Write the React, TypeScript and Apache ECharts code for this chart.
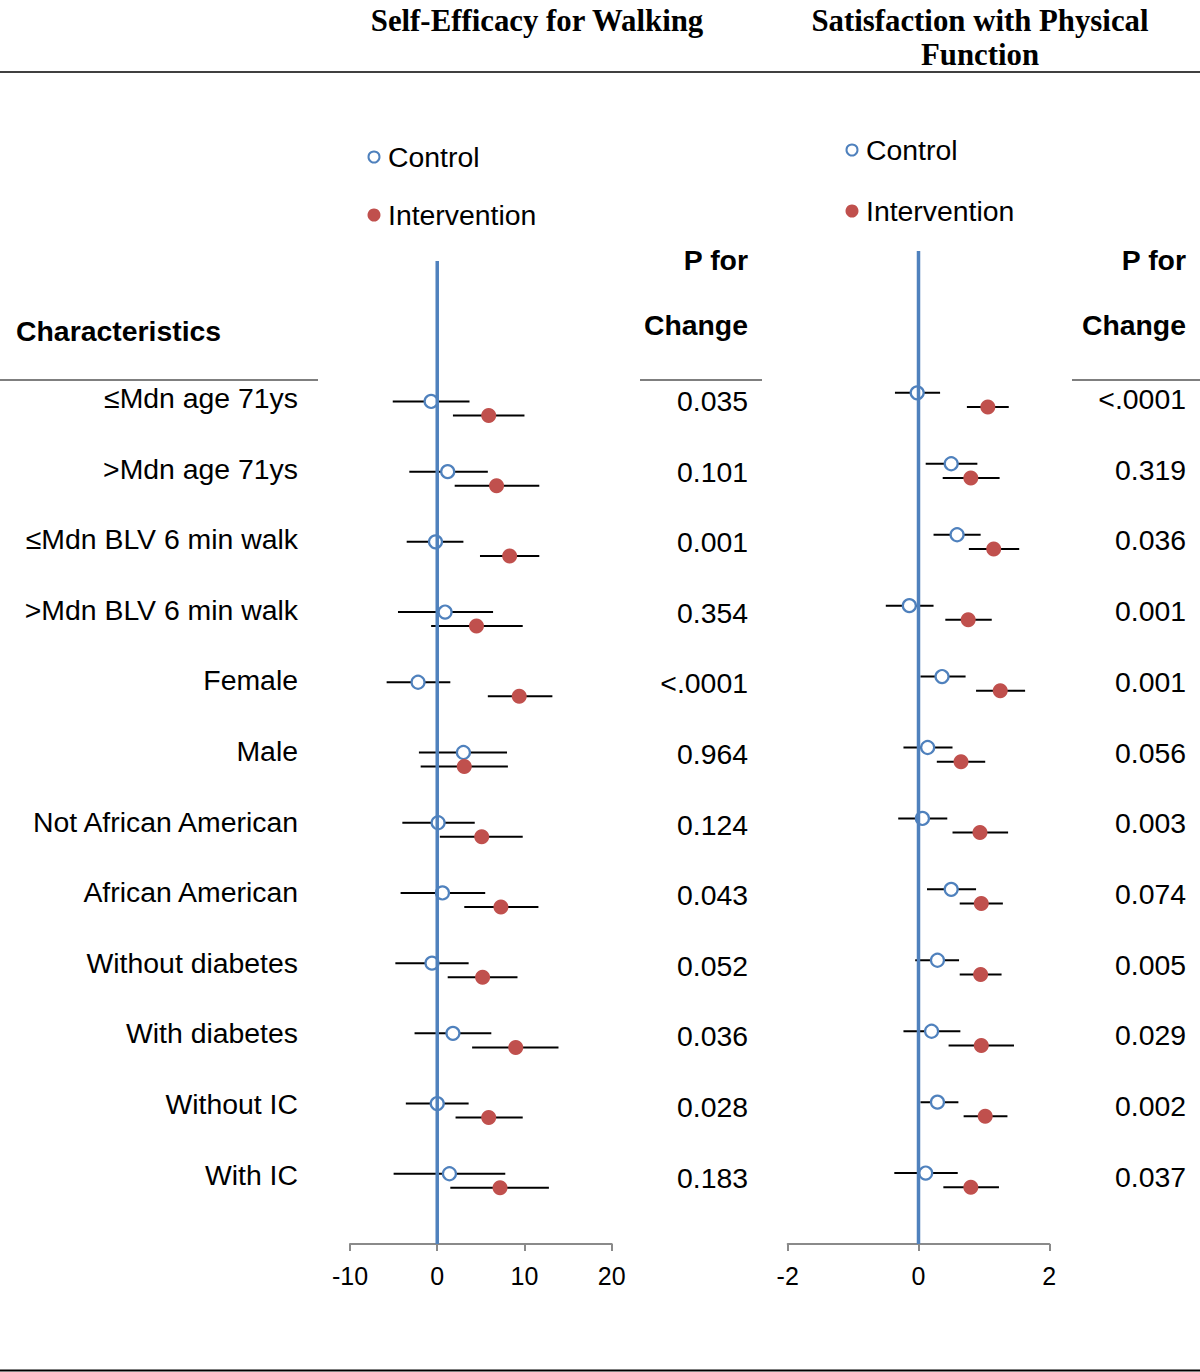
import React, { useEffect, useRef } from "react";
import * as echarts from "echarts";

// ---------- data ----------
const categories = [
  "≤Mdn age 71ys",
  ">Mdn age 71ys",
  "≤Mdn BLV 6 min walk",
  ">Mdn BLV 6 min walk",
  "Female",
  "Male",
  "Not African American",
  "African American",
  "Without diabetes",
  "With diabetes",
  "Without IC",
  "With IC",
];

// Self-Efficacy for Walking
const seControlMean = [-0.7, 1.2, -0.2, 0.9, -2.2, 3.0, 0.1, 0.6, -0.6, 1.8, 0.0, 1.4];
const seControlLow = [-5.1, -3.2, -3.5, -4.5, -5.8, -2.1, -4.0, -4.2, -4.8, -2.6, -3.6, -5.0];
const seControlHigh = [3.7, 5.8, 3.0, 6.4, 1.5, 8.0, 4.3, 5.5, 3.6, 6.2, 3.6, 7.8];
const seIntMean = [5.9, 6.8, 8.3, 4.5, 9.4, 3.1, 5.1, 7.3, 5.2, 9.0, 5.9, 7.2];
const seIntLow = [1.8, 2.0, 4.9, -0.7, 5.8, -1.9, 0.3, 3.1, 1.2, 4.0, 2.1, 1.5];
const seIntHigh = [10.0, 11.7, 11.7, 9.8, 13.2, 8.1, 9.8, 11.6, 9.2, 13.9, 9.8, 12.8];
const seP = ["0.035", "0.101", "0.001", "0.354", "<.0001", "0.964", "0.124", "0.043", "0.052", "0.036", "0.028", "0.183"];

// Satisfaction with Physical Function
const spControlMean = [-0.02, 0.5, 0.59, -0.14, 0.36, 0.14, 0.06, 0.5, 0.29, 0.2, 0.29, 0.11];
const spControlLow = [-0.36, 0.11, 0.23, -0.5, 0.03, -0.23, -0.31, 0.13, -0.05, -0.23, 0.03, -0.37];
const spControlHigh = [0.33, 0.9, 0.95, 0.23, 0.72, 0.52, 0.44, 0.88, 0.62, 0.64, 0.61, 0.6];
const spIntMean = [1.06, 0.8, 1.15, 0.76, 1.25, 0.65, 0.94, 0.96, 0.95, 0.96, 1.02, 0.8];
const spIntLow = [0.74, 0.37, 0.77, 0.41, 0.88, 0.28, 0.52, 0.63, 0.63, 0.46, 0.69, 0.38];
const spIntHigh = [1.38, 1.24, 1.54, 1.12, 1.63, 1.02, 1.37, 1.29, 1.27, 1.46, 1.36, 1.23];
const spP = ["<.0001", "0.319", "0.036", "0.001", "0.001", "0.056", "0.003", "0.074", "0.005", "0.029", "0.002", "0.037"];

const seTicks = { min: -10, max: 20, interval: 10 };
const spTicks = { min: -2, max: 2, interval: 2 };

// ---------- styling ----------
const BLUE = "#4F81BD";
const RED = "#C0504D";
const SANS = '"Liberation Sans", Arial, sans-serif';
const SERIF = '"Liberation Serif", "Times New Roman", serif';
const INT_OFFSET = 0.2;

function errorBarSeries(name: string, gridIdx: number, lows: number[], highs: number[], offset: number) {
  return {
    name,
    type: "custom",
    xAxisIndex: gridIdx,
    yAxisIndex: gridIdx,
    z: 2,
    data: lows.map((l, i) => [l, highs[i], i + offset]),
    encode: { x: [0, 1], y: 2 },
    renderItem: (params: any, api: any) => {
      const a = api.coord([api.value(0), api.value(2)]);
      const b = api.coord([api.value(1), api.value(2)]);
      return {
        type: "line",
        shape: { x1: a[0], y1: a[1], x2: b[0], y2: b[1] },
        style: { stroke: "#000", lineWidth: 2 },
      };
    },
    silent: true,
  };
}

function pointSeries(name: string, gridIdx: number, means: number[], offset: number, control: boolean) {
  return {
    name,
    type: "scatter",
    xAxisIndex: gridIdx,
    yAxisIndex: gridIdx,
    z: 3,
    symbol: "circle",
    symbolSize: control ? 13 : 15,
    itemStyle: control
      ? { color: "#ffffff", borderColor: BLUE, borderWidth: 2.2, opacity: 1 }
      : { color: RED, borderWidth: 0, opacity: 1 },
    data: means.map((m, i) => [m, i + offset]),
    silent: true,
  };
}

function zeroLine(gridIdx: number) {
  return {
    type: "line",
    xAxisIndex: gridIdx,
    yAxisIndex: gridIdx,
    z: 5,
    symbol: "none",
    lineStyle: { color: BLUE, width: 3.5, opacity: 1 },
    data: [
      [0, -2],
      [0, 12],
    ],
    silent: true,
  };
}

function xAxis(gridIdx: number, t: { min: number; max: number; interval: number }) {
  return {
    type: "value",
    gridIndex: gridIdx,
    min: t.min,
    max: t.max,
    interval: t.interval,
    splitLine: { show: false },
    axisLine: { show: true, onZero: false, lineStyle: { color: "#8a8a8a", width: 2 } },
    axisTick: { show: true, length: 7, lineStyle: { color: "#8a8a8a", width: 2 } },
    axisLabel: { color: "#000", fontSize: 25, fontFamily: SANS, margin: 19 },
  };
}

function yAxis(gridIdx: number) {
  return { type: "value", gridIndex: gridIdx, min: -2, max: 12, inverse: true, show: false };
}

function txt(text: string, x: number, y: number, opts: any = {}) {
  return {
    type: "text",
    x,
    y,
    silent: true,
    style: {
      text,
      fill: "#000",
      fontSize: opts.fontSize ?? 28.4,
      fontFamily: opts.fontFamily ?? SANS,
      fontWeight: opts.fontWeight ?? "normal",
      align: opts.align ?? "left",
      verticalAlign: "middle",
    },
  };
}

function hline(x1: number, x2: number, y: number, w = 1.5) {
  return { type: "line", silent: true, shape: { x1, y1: y, x2, y2: y }, style: { stroke: "#000", lineWidth: w } };
}

export default function App() {
  const ref = useRef<HTMLDivElement>(null);

  useEffect(() => {
    if (!ref.current) return;
    const chart = echarts.init(ref.current, undefined, { renderer: "svg" });

    const graphics: any[] = [];
    // titles
    const titleOpts = { fontFamily: SERIF, fontWeight: "bold", fontSize: 30.8, align: "center" };
    graphics.push(txt("Self-Efficacy for Walking", 537, 21, titleOpts));
    graphics.push(txt("Satisfaction with Physical", 980, 21, titleOpts));
    graphics.push(txt("Function", 980, 55, titleOpts));
    // table rules
    graphics.push(hline(0, 1200, 72, 1.5));
    graphics.push(hline(0, 318, 380, 1.2));
    graphics.push(hline(640, 762, 380, 1.2));
    graphics.push(hline(1072, 1200, 380, 1.2));
    graphics.push(hline(0, 1200, 1370.5, 2));
    // legends
    const legends = [
      { cx: 374, cy1: 157, cy2: 215 },
      { cx: 852, cy1: 150, cy2: 211 },
    ];
    legends.forEach((l) => {
      graphics.push({ type: "circle", silent: true, shape: { cx: l.cx, cy: l.cy1, r: 5.5 }, style: { fill: "#fff", stroke: BLUE, lineWidth: 2 } });
      graphics.push(txt("Control", l.cx + 14, l.cy1));
      graphics.push({ type: "circle", silent: true, shape: { cx: l.cx, cy: l.cy2, r: 6.5 }, style: { fill: RED } });
      graphics.push(txt("Intervention", l.cx + 14, l.cy2));
    });
    // headers
    graphics.push(txt("Characteristics", 16, 331, { fontWeight: "bold" }));
    [748, 1186].forEach((x) => {
      graphics.push(txt("P for", x, 260, { fontWeight: "bold", align: "right" }));
      graphics.push(txt("Change", x, 325, { fontWeight: "bold", align: "right" }));
    });
    // row labels and p-values
    categories.forEach((c, i) => {
      graphics.push(txt(c, 298, 398 + 70.6 * i, { align: "right" }));
      graphics.push(txt(seP[i], 748, 401 + 70.6 * i, { align: "right" }));
      graphics.push(txt(spP[i], 1186, 399 + 70.7 * i, { align: "right" }));
    });

    chart.setOption({
      animation: false,
      backgroundColor: "#ffffff",
      textStyle: { fontFamily: SANS },
      grid: [
        { left: 350, top: 261, width: 261.7, height: 983 },
        { left: 787.7, top: 251, width: 261.6, height: 993 },
      ],
      xAxis: [xAxis(0, seTicks), xAxis(1, spTicks)],
      yAxis: [yAxis(0), yAxis(1)],
      series: [
        errorBarSeries("Control CI", 0, seControlLow, seControlHigh, 0),
        errorBarSeries("Intervention CI", 0, seIntLow, seIntHigh, INT_OFFSET),
        pointSeries("Control", 0, seControlMean, 0, true),
        pointSeries("Intervention", 0, seIntMean, INT_OFFSET, false),
        zeroLine(0),
        errorBarSeries("Control CI", 1, spControlLow, spControlHigh, 0),
        errorBarSeries("Intervention CI", 1, spIntLow, spIntHigh, INT_OFFSET),
        pointSeries("Control", 1, spControlMean, 0, true),
        pointSeries("Intervention", 1, spIntMean, INT_OFFSET, false),
        zeroLine(1),
      ],
      graphic: graphics,
    });

    return () => chart.dispose();
  }, []);

  return (
    <div
      ref={ref}
      style={{ position: "absolute", left: 0, top: 0, width: 1200, height: 1372, background: "#fff" }}
    />
  );
}
